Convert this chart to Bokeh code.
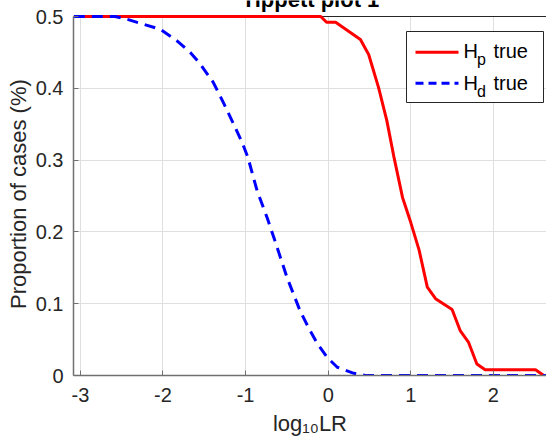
from bokeh.plotting import figure
from bokeh.models import Range1d, FixedTicker, Label, Span, BoxAnnotation
from bokeh.embed import file_html
from bokeh.resources import INLINE

# ---- data ----
hp_x = [-3.08, -0.09, -0.02, 0.09, 0.39, 0.49, 0.61, 0.71, 0.80, 0.90, 1.00,
        1.10, 1.20, 1.30, 1.50, 1.60, 1.70, 1.80, 1.90, 2.51, 2.61]
hp_y = [0.5, 0.5, 0.492, 0.492, 0.468, 0.447, 0.401, 0.355, 0.302, 0.248, 0.213,
        0.175, 0.123, 0.107, 0.092, 0.062, 0.046, 0.016, 0.008, 0.008, 0.0]

hd_x = [-3.08, -2.58, -2.43, -2.23, -2.03, -1.83, -1.67, -1.55, -1.39, -1.26,
        -1.14, -1.04, -0.97, -0.86, -0.74, -0.64, -0.50, -0.34, -0.24, -0.13,
        -0.01, 0.11, 0.31, 0.45, 2.64]
hd_y = [0.5, 0.5, 0.496, 0.489, 0.482, 0.466, 0.450, 0.434, 0.408, 0.378,
        0.349, 0.324, 0.303, 0.257, 0.220, 0.186, 0.137, 0.090, 0.067, 0.044,
        0.025, 0.0115, 0.003, 0.0, 0.0]

x_ticks = [-3, -2, -1, 0, 1, 2]
x_tick_labels = ["-3", "-2", "-1", "0", "1", "2"]
y_ticks = [0, 0.1, 0.2, 0.3, 0.4, 0.5]
y_tick_labels = ["0", "0.1", "0.2", "0.3", "0.4", "0.5"]

series_names = ["H", "H"]
series_subs = ["p", "d"]
series_suffix = "true"
title_text = "Tippett plot 1"
ylabel_text = "Proportion of cases (%)"
xlabel_text = "log\u2081\u2080LR"

# ---- layout (page margin is 0 in Bokeh's template) ----
X0, X1 = -3.0835, 2.643
YA0, YA1 = 0.0, 0.5          # axis limits of the reference
W, H = 546, 443
L, R, T, B = 73, 0, 0, 68
AXIS_TOP = 16                # pixel row of y = 0.5
FW = W - L - R
FH = H - T - B
Y0 = YA0
Y1 = YA0 + (YA1 - YA0) * FH / (FH - AXIS_TOP)   # frame reaches canvas top
FONT = "Liberation Sans"
AX = "#262626"


def dx(px):  # canvas pixel x -> data x
    return X0 + (px - L) / FW * (X1 - X0)


def dy(py):  # canvas pixel y -> data y
    return Y1 - (py - T) / FH * (Y1 - Y0)


p = figure(width=W, height=H, output_backend="svg", toolbar_location=None,
           title=None,
           x_range=Range1d(X0, X1), y_range=Range1d(Y0, Y1),
           min_border_left=L, min_border_right=R, min_border_top=T,
           min_border_bottom=B)
p.outline_line_color = None
p.background_fill_color = "white"
p.border_fill_color = "white"

p.xaxis.ticker = FixedTicker(ticks=x_ticks)
p.yaxis.ticker = FixedTicker(ticks=y_ticks)
p.yaxis.bounds = (YA0, YA1)
p.xaxis.major_label_overrides = {t: s for t, s in zip(x_ticks, x_tick_labels)}
p.yaxis.major_label_overrides = {t: s for t, s in zip(y_ticks, y_tick_labels)}

for ax in (p.xaxis[0], p.yaxis[0]):
    ax.axis_line_color = "#707070"
    ax.axis_line_width = 1.5
    ax.major_tick_line_color = "#707070"
    ax.major_tick_in = 5
    ax.major_tick_out = 0
    ax.minor_tick_line_color = None
    ax.major_label_text_font = FONT
    ax.major_label_text_font_size = "20px"
    ax.major_label_text_color = AX
    ax.axis_label_text_font = FONT
    ax.axis_label_text_font_size = "22px"
    ax.axis_label_text_font_style = "normal"
    ax.axis_label_text_color = AX
p.xaxis.major_label_standoff = 12
p.yaxis.major_label_standoff = 10

# the axis label is centred on the whole frame; two no-break spaces at its
# end bring the visible words down onto the centre of the 0..0.5 box
p.yaxis.axis_label = ylabel_text + "\u00a0\u00a0"
p.yaxis.axis_label_standoff = 2
p.xaxis.axis_label = xlabel_text
p.xaxis.axis_label_standoff = 6

p.grid.grid_line_color = "#dfdfdf"
p.grid.grid_line_width = 1

# white band above the axes box (hides grid lines there) and the box top edge
p.add_layout(BoxAnnotation(bottom=YA1, fill_color="white", fill_alpha=1.0,
                           line_color=None, level="underlay"))
p.add_layout(Span(location=YA1, dimension="width", line_color=AX,
                  line_width=1, level="underlay"))

# ---- curves ----
p.line(hp_x, hp_y, line_color="#ff0000", line_width=3)
p.line(hd_x, hd_y, line_color="#0000ff", line_width=3, line_dash="11 7")

# ---- legend (drawn by hand for the subscripts) ----
p.quad(left=dx(406), right=dx(543), top=dy(31), bottom=dy(102),
       fill_color="white", line_color=AX, line_width=1)
p.line([dx(415), dx(458)], [dy(51.7), dy(51.7)], line_color="#ff0000",
       line_width=3)
p.line([dx(415), dx(458)], [dy(82.7), dy(82.7)], line_color="#0000ff",
       line_width=3, line_dash="8 5")

for i, (nm, sub) in enumerate(zip(series_names, series_subs)):
    base = 50.5 + 32 * i
    p.add_layout(Label(x=dx(463), y=dy(base), text=nm, text_font=FONT,
                       text_font_size="20px", text_color="black",
                       text_baseline="alphabetic"))
    p.add_layout(Label(x=dx(476.5), y=dy(base + 8.5), text=sub, text_font=FONT,
                       text_font_size="16px", text_color="black",
                       text_baseline="alphabetic"))
    p.add_layout(Label(x=dx(493), y=dy(base), text=series_suffix,
                       text_font=FONT, text_font_size="20px",
                       text_color="black", text_baseline="alphabetic"))

# ---- title (cut off at the top as in the reference) ----
p.add_layout(Label(x=dx(310), y=dy(-1), text=title_text, text_font=FONT,
                   text_font_size="22px", text_font_style="bold",
                   text_color="black", text_align="center",
                   text_baseline="alphabetic"))

open("out.html", "w").write(file_html(p, INLINE))
